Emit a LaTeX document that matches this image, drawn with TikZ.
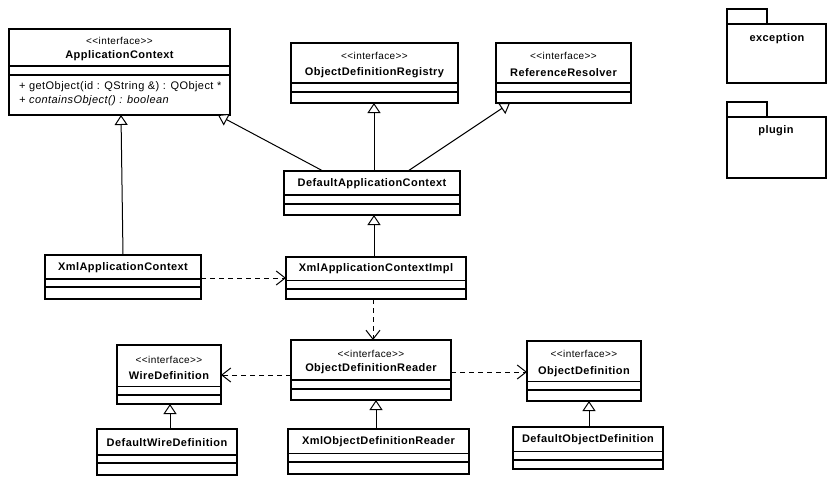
\documentclass[tikz,border=0pt]{standalone}
\usepackage{fontspec}
\setmainfont{Liberation Sans}
\newfontfamily\umlF[LetterSpace=4]{Liberation Sans}
\usetikzlibrary{arrows.meta}
\tikzset{
  classbox/.style={draw, line width=2.5pt, fill=white, inner sep=0pt, outer sep=0pt},
  divline/.style={line width=1.2pt},
  cname/.style={font=\umlF\bfseries\fontsize{11}{13}\selectfont, inner sep=0pt},
  stereo/.style={font=\umlF\fontsize{10}{12}\selectfont, inner sep=0pt},
  meth/.style={font=\umlF\fontsize{11}{13}\selectfont, anchor=west, inner sep=0pt},
  pkg/.style={draw, line width=2.2pt, inner sep=0pt, outer sep=0pt},
  inherit/.style={line width=1pt, -{Triangle[open, length=10pt, width=13pt, fill=white]}},
  depend/.style={line width=1pt, dash pattern=on 5pt off 4pt, -{Straight Barb[length=9pt, width=14pt]}},
}
% name, x1, y1, x2, y2, divider1, divider2
\newcommand{\umlbox}[7]{%
  \node[classbox, minimum width={#4-#2}, minimum height={#5-#3}, anchor=north west] (#1) at (#2,#3) {};
  \draw[divline] (#1.west |- 0,#6) -- (#1.east |- 0,#6);
  \draw[divline] (#1.west |- 0,#7) -- (#1.east |- 0,#7);
}
\begin{document}
\begin{tikzpicture}[x=1pt, y=-1pt]
\useasboundingbox[fill=white] (0,0) rectangle (836,485);

% ---------- classes ----------
\umlbox{ac}{9}{29}{230}{115}{66}{75}
\node[stereo] (ac-st) at (119.5,41) {<<interface>>};
\node[cname] (ac-nm) at (119.5,56) {ApplicationContext};
\node[meth] (ac-m1) at (19,87) {+ getObject(id : QString \&) : QObject *};
\node[meth, font=\umlF\itshape\fontsize{11}{13}\selectfont] (ac-m2) at (19,101) {+ containsObject() : boolean};

\umlbox{odr}{291}{43}{458}{103}{83}{92}
\node[stereo] (odr-st) at (374.5,56) {<<interface>>};
\node[cname] (odr-nm) at (374.5,73) {ObjectDefinitionRegistry};

\umlbox{rr}{496}{43}{631}{103}{83}{92}
\node[stereo] (rr-st) at (563.5,56) {<<interface>>};
\node[cname] (rr-nm) at (563.5,73) {ReferenceResolver};

\umlbox{dac}{284}{171}{460}{215}{195}{204}
\node[cname] (dac-nm) at (372,184) {DefaultApplicationContext};

\umlbox{xac}{45}{255}{201}{299}{279}{287}
\node[cname] (xac-nm) at (123,268) {XmlApplicationContext};

\umlbox{xaci}{286}{257}{466}{299}{280.5}{289}
\node[cname] (xaci-nm) at (376,269) {XmlApplicationContextImpl};

\umlbox{odrd}{291}{340}{451}{400}{380}{389}
\node[stereo] (odrd-st) at (371,354) {<<interface>>};
\node[cname] (odrd-nm) at (371,369) {ObjectDefinitionReader};

\umlbox{wd}{117}{345}{221}{404}{386.5}{395}
\node[stereo] (wd-st) at (169,360) {<<interface>>};
\node[cname] (wd-nm) at (169,375.5) {WireDefinition};

\umlbox{od}{527}{341}{641}{401}{381.5}{390}
\node[stereo] (od-st) at (584,354) {<<interface>>};
\node[cname] (od-nm) at (584,371.5) {ObjectDefinition};

\umlbox{dwd}{97}{429}{237}{475}{455}{463}
\node[cname] (dwd-nm) at (167,443) {DefaultWireDefinition};

\umlbox{xodr}{288}{429}{469}{474}{453.5}{462}
\node[cname] (xodr-nm) at (378.5,442) {XmlObjectDefinitionReader};

\umlbox{dod}{513}{427}{663}{469}{451.5}{460}
\node[cname] (dod-nm) at (588,440) {DefaultObjectDefinition};

% ---------- packages ----------
\node[pkg, minimum width=40, minimum height=15, anchor=north west] (exc-tab) at (727,9) {};
\node[pkg, minimum width=99, minimum height=59, anchor=north west] (exc) at (727,24) {};
\node[cname] (exc-nm) at (777,39) {exception};

\node[pkg, minimum width=40, minimum height=15, anchor=north west] (plg-tab) at (727,102) {};
\node[pkg, minimum width=99, minimum height=61, anchor=north west] (plg) at (727,117) {};
\node[cname] (plg-nm) at (776,131) {plugin};

% ---------- generalisations ----------
\draw[inherit] (xac.north) -- ([xshift=112pt]ac.south west);
\draw[inherit] ([xshift=39pt]dac.north west) -- ([xshift=209pt]ac.south west);
\draw[inherit] ([xshift=90pt]dac.north west) -- ([xshift=83pt]odr.south west);
\draw[inherit] ([xshift=124pt]dac.north west) -- ([xshift=14pt]rr.south west);
\draw[inherit] ([xshift=88pt]xaci.north west) -- ([xshift=90pt]dac.south west);
\draw[inherit] ([xshift=73pt]dwd.north west) -- ([xshift=53pt]wd.south west);
\draw[inherit] ([xshift=88pt]xodr.north west) -- ([xshift=85pt]odrd.south west);
\draw[inherit] ([xshift=76pt]dod.north west) -- ([xshift=62pt]od.south west);

% ---------- dependencies ----------
\draw[depend] (xac.east |- 0,278) -- (xaci.west |- 0,278);
\draw[depend] ([xshift=87pt]xaci.south west) -- ([xshift=82pt]odrd.north west);
\draw[depend] (odrd.west |- 0,375) -- (wd.east |- 0,375);
\draw[depend] (odrd.east |- 0,372) -- (od.west |- 0,372);
\end{tikzpicture}
\end{document}
